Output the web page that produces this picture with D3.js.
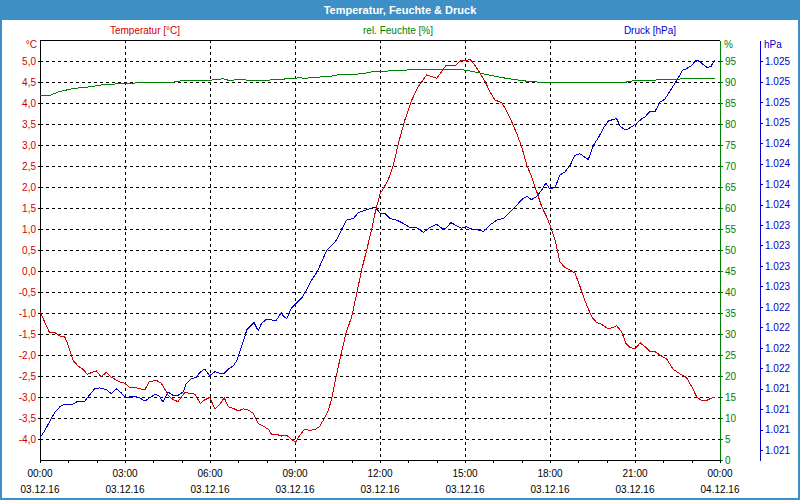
<!DOCTYPE html>
<html><head><meta charset="utf-8">
<script src="https://cdn.jsdelivr.net/npm/d3@7"></script>
<style>
body{margin:0;background:#fff}
svg{display:block}
text{font-family:"Liberation Sans",Arial,sans-serif;font-size:10px}
</style>
</head><body>
<svg id="chart" width="800" height="500"></svg>
<script>
const title = "Temperatur, Feuchte & Druck";
const seriesNames = ["Temperatur [°C]", "rel. Feuchte [%]", "Druck [hPa]"];
const units = ["°C", "%", "hPa"];

const timeTicks = [0, 3, 6, 9, 12, 15, 18, 21, 24];
const timeLabels = ["00:00","03:00","06:00","09:00","12:00","15:00","18:00","21:00","00:00"];
const dateLabels = ["03.12.16","03.12.16","03.12.16","03.12.16","03.12.16","03.12.16","03.12.16","03.12.16","04.12.16"];
const hourTicks = [0,1,2,3,4,5,6,7,8,9,10,11,12,13,14,15,16,17,18,19,20,21,22,23,24];

const tempTicks = [-4,-3.5,-3,-2.5,-2,-1.5,-1,-0.5,0,0.5,1,1.5,2,2.5,3,3.5,4,4.5,5];
const humTicks = [0,5,10,15,20,25,30,35,40,45,50,55,60,65,70,75,80,85,90,95];
const presTicks = [1025.45,1025.2,1024.95,1024.7,1024.45,1024.2,1023.95,1023.7,1023.45,1023.2,1022.95,1022.7,1022.45,1022.2,1021.95,1021.7,1021.45,1021.2,1020.95,1020.7];

const tempHours = [0,0.34,0.52,0.70,0.87,0.99,1.16,1.34,1.52,1.67,
1.81,1.99,2.16,2.34,2.52,2.81,2.99,3.17,3.40,3.70,
3.85,4.10,4.28,4.52,4.69,4.87,5.11,5.28,5.46,5.66,
5.81,5.99,6.18,6.35,6.50,6.65,6.82,7.00,7.18,7.35,
7.53,7.70,7.88,8.06,8.18,8.35,8.53,8.71,8.88,9.02,
9.18,9.35,9.53,9.71,9.86,10.0,10.18,10.30,10.45,10.62,
10.80,11.0,11.18,11.35,11.53,11.71,11.85,12.0,12.29,12.47,
12.65,12.88,13.12,13.35,13.65,13.82,14.0,14.18,14.33,14.47,
14.68,14.85,15.04,15.18,15.35,15.53,15.71,15.88,16.06,16.30,
16.45,16.65,16.82,17.0,17.18,17.35,17.53,17.71,17.88,18.02,
18.18,18.35,18.53,18.71,18.88,19.06,19.18,19.32,19.47,19.65,
19.82,20.06,20.23,20.35,20.53,20.68,20.82,21.0,21.18,21.35,
21.53,21.71,21.88,22.12,22.35,22.59,22.82,23.0,23.18,23.35,
23.53,23.68,23.81];
const tempValues = [-0.97,-1.47,-1.46,-1.55,-1.56,-1.76,-2.12,-2.26,-2.34,-2.46,
-2.42,-2.38,-2.52,-2.41,-2.53,-2.64,-2.67,-2.78,-2.78,-2.83,
-2.64,-2.60,-2.67,-2.95,-3.06,-3.11,-2.89,-2.91,-2.93,-3.15,
-3.07,-3.01,-3.29,-3.17,-3.02,-3.23,-3.27,-3.33,-3.28,-3.31,
-3.39,-3.63,-3.69,-3.77,-3.90,-3.89,-3.93,-3.91,-4.01,-4.08,
-3.90,-3.76,-3.80,-3.77,-3.71,-3.55,-3.31,-3.03,-2.52,-2.0,
-1.48,-1.09,-0.53,0.02,0.5,1.0,1.45,1.83,2.17,2.52,
3.04,3.60,4.07,4.39,4.67,4.63,4.59,4.75,4.90,4.88,
4.90,5.01,5.01,5.04,4.90,4.71,4.51,4.27,4.07,4.01,
3.83,3.55,3.28,2.96,2.52,2.25,1.89,1.53,1.29,1.06,
0.74,0.22,0.08,0.02,-0.05,-0.37,-0.61,-0.85,-1.09,-1.23,
-1.27,-1.38,-1.34,-1.30,-1.45,-1.72,-1.82,-1.86,-1.71,-1.80,
-1.92,-1.92,-2.0,-2.10,-2.34,-2.45,-2.54,-2.75,-3.0,-3.08,
-3.08,-3.03,-3.0];

const humHours = [0,0.34,0.64,0.87,1.22,1.69,2.28,2.87,3.46,4.63,
4.99,5.81,6.17,6.47,6.65,7.18,7.30,8.06,8.24,8.94,
9.12,9.41,9.59,10.24,10.35,10.59,11.18,11.29,11.59,11.76,
12.25,12.47,13.41,14.94,15.41,15.88,16.35,16.71,17.18,17.53,
18.24,20.70,20.94,21.88,22.47,23.41,23.81];
const humValues = [86.7,86.8,87.6,88.0,88.5,88.8,89.4,89.6,89.8,89.9,
90.3,90.4,90.5,90.8,90.4,90.6,90.4,90.4,90.6,90.8,
91.0,90.9,91.1,91.3,91.5,91.8,91.8,92.0,92.2,92.5,
92.6,92.7,93.0,92.9,92.3,91.6,91.0,90.6,90.2,90.0,
90.0,90.0,90.3,90.5,90.7,90.8,90.9];

const presHours = [0,0.17,0.34,0.52,0.70,0.87,1.16,1.34,1.58,1.69,
1.93,2.11,2.34,2.52,2.69,2.87,3.01,3.17,3.34,3.52,
3.70,3.87,4.05,4.19,4.34,4.52,4.69,4.87,5.05,5.16,
5.34,5.52,5.64,5.81,5.99,6.18,6.35,6.50,6.65,6.82,
6.94,7.12,7.30,7.44,7.55,7.70,7.82,8.00,8.18,8.35,
8.51,8.61,8.71,8.88,9.06,9.24,9.41,9.59,9.77,9.94,
10.12,10.30,10.47,10.65,10.82,11.06,11.23,11.47,11.65,11.82,
12.02,12.18,12.35,12.59,12.82,13.06,13.29,13.53,13.76,14.0,
14.18,14.33,14.50,14.71,14.88,15.04,15.24,15.47,15.65,15.88,
16.12,16.35,16.59,16.82,17.0,17.18,17.35,17.53,17.71,17.85,
18.0,18.18,18.35,18.53,18.71,18.88,19.06,19.18,19.35,19.53,
19.71,19.88,20.06,20.23,20.35,20.49,20.68,20.88,21.06,21.24,
21.35,21.53,21.71,21.88,22.06,22.24,22.41,22.53,22.68,22.82,
23.0,23.15,23.29,23.41,23.54,23.68,23.81];
const presValues = [1020.85,1020.94,1021.05,1021.16,1021.23,1021.26,1021.26,1021.30,1021.30,1021.35,
1021.45,1021.46,1021.44,1021.39,1021.45,1021.40,1021.34,1021.35,1021.36,1021.34,
1021.30,1021.34,1021.38,1021.37,1021.29,1021.41,1021.37,1021.37,1021.41,1021.51,
1021.57,1021.59,1021.65,1021.69,1021.61,1021.66,1021.64,1021.64,1021.69,1021.73,
1021.79,1021.97,1022.17,1022.22,1022.26,1022.16,1022.25,1022.30,1022.29,1022.29,
1022.38,1022.33,1022.31,1022.44,1022.50,1022.56,1022.66,1022.78,1022.87,1023.00,
1023.14,1023.20,1023.27,1023.40,1023.51,1023.53,1023.60,1023.63,1023.65,1023.67,
1023.59,1023.59,1023.53,1023.51,1023.47,1023.42,1023.42,1023.36,1023.42,1023.46,
1023.41,1023.41,1023.48,1023.44,1023.41,1023.43,1023.40,1023.39,1023.37,1023.45,
1023.51,1023.53,1023.61,1023.69,1023.76,1023.80,1023.76,1023.80,1023.88,1023.96,
1023.89,1023.91,1024.06,1024.10,1024.18,1024.30,1024.32,1024.29,1024.25,1024.42,
1024.52,1024.63,1024.72,1024.74,1024.75,1024.65,1024.61,1024.65,1024.69,1024.75,
1024.77,1024.84,1024.84,1024.95,1024.99,1025.09,1025.18,1025.25,1025.34,1025.36,
1025.40,1025.46,1025.45,1025.41,1025.375,1025.385,1025.47];

const C_FRAME = "#3d8fc6", C_T = "#d00000", C_H = "#008000", C_P = "#0000cc";

const svg = d3.select("#chart");
const L = 40, R = 720, T = 40, B = 460;

const x = d3.scaleLinear().domain([0, 24]).range([L, R]);
const yT = d3.scaleLinear().domain([-4.5, 5.5]).range([B, T]);
const yH = d3.scaleLinear().domain([0, 100]).range([B, T]);
const yP = d3.scaleLinear().domain([1020.58, 1025.71]).range([B, T]);

// frame + title bar
svg.append("rect").attr("x",0).attr("y",0).attr("width",800).attr("height",500).attr("fill","#fff");
svg.append("rect").attr("x",0).attr("y",0).attr("width",800).attr("height",20).attr("fill",C_FRAME);
svg.append("rect").attr("x",1).attr("y",1).attr("width",798).attr("height",498)
  .attr("fill","none").attr("stroke",C_FRAME).attr("stroke-width",2);
svg.append("text").attr("x",400).attr("y",14).attr("text-anchor","middle")
  .attr("fill","#fff").attr("font-weight","bold").style("font-size","11px").text(title);

// legend titles
const legendX = [145, 398, 650], legendC = [C_T, C_H, C_P];
seriesNames.forEach((n,i)=>svg.append("text").attr("x",legendX[i]).attr("y",34)
  .attr("text-anchor","middle").attr("fill",legendC[i]).text(n));
svg.append("text").attr("x",37).attr("y",48).attr("text-anchor","end").attr("fill",C_T).text(units[0]);
svg.append("text").attr("x",724).attr("y",48).attr("fill",C_H).text(units[1]);
svg.append("text").attr("x",764).attr("y",48).attr("fill",C_P).text(units[2]);

// grid
const grid = svg.append("g").attr("stroke","#000").attr("stroke-dasharray","3,3").attr("shape-rendering","crispEdges");
tempTicks.forEach(v=>grid.append("line").attr("x1",L).attr("x2",R).attr("y1",Math.round(yT(v))+0.5).attr("y2",Math.round(yT(v))+0.5));
timeTicks.filter(t=>t>0 && t<24).forEach(t=>grid.append("line").attr("y1",T).attr("y2",B)
  .attr("x1",Math.round(x(t))+0.5).attr("x2",Math.round(x(t))+0.5));

// top border
svg.append("line").attr("x1",L).attr("x2",R).attr("y1",T+0.5).attr("y2",T+0.5).attr("stroke","#000").attr("shape-rendering","crispEdges");

// axes
const fmtT = v => v.toFixed(1).replace(".", ",");
const fmtP = v => { const s = String(Math.round(v)); return s.slice(0, s.length-3) + "." + s.slice(-3); };

const gL = svg.append("g").attr("transform",`translate(${L},0)`)
  .call(d3.axisLeft(yT).tickValues(tempTicks).tickFormat(fmtT).tickSize(2).tickSizeOuter(0).tickPadding(2));
gL.selectAll("text").attr("fill",C_T).style("font-size","10px").style("font-family","Liberation Sans, Arial, sans-serif");
gL.selectAll("line,path").attr("stroke","#000").attr("shape-rendering","crispEdges");

const gH = svg.append("g").attr("transform",`translate(${R},0)`)
  .call(d3.axisRight(yH).tickValues(humTicks).tickSize(3).tickSizeOuter(0).tickPadding(2));
gH.selectAll("text").attr("fill",C_H).style("font-size","10px").style("font-family","Liberation Sans, Arial, sans-serif");
gH.selectAll("line,path").attr("stroke",C_H).attr("shape-rendering","crispEdges");

const gP = svg.append("g").attr("transform",`translate(760,0)`)
  .call(d3.axisRight(yP).tickValues(presTicks).tickFormat(fmtP).tickSize(3).tickSizeOuter(0).tickPadding(2));
gP.selectAll("text").attr("fill",C_P).style("font-size","10px").style("font-family","Liberation Sans, Arial, sans-serif");
gP.selectAll("line,path").attr("stroke",C_P).attr("shape-rendering","crispEdges");

const gB = svg.append("g").attr("transform",`translate(0,${B})`)
  .call(d3.axisBottom(x).tickValues(hourTicks).tickFormat("").tickSize(3).tickSizeOuter(0));
gB.selectAll("line,path").attr("stroke","#000").attr("shape-rendering","crispEdges");
timeTicks.forEach((t,i)=>{
  svg.append("text").attr("x",x(t)).attr("y",477).attr("text-anchor","middle").attr("fill","#000").text(timeLabels[i]);
  svg.append("text").attr("x",x(t)).attr("y",493).attr("text-anchor","middle").attr("fill","#000").text(dateLabels[i]);
});

// series
const plot = svg.append("g").attr("fill","none").attr("stroke-width",1).attr("shape-rendering","crispEdges");
plot.append("path").attr("stroke",C_H)
  .attr("d", d3.line().x((d,i)=>x(humHours[i])).y(d=>yH(d))(humValues));
plot.append("path").attr("stroke",C_P)
  .attr("d", d3.line().x((d,i)=>x(presHours[i])).y(d=>yP(d))(presValues));
plot.append("path").attr("stroke",C_T)
  .attr("d", d3.line().x((d,i)=>x(tempHours[i])).y(d=>yT(d))(tempValues));
</script>
</body></html>
